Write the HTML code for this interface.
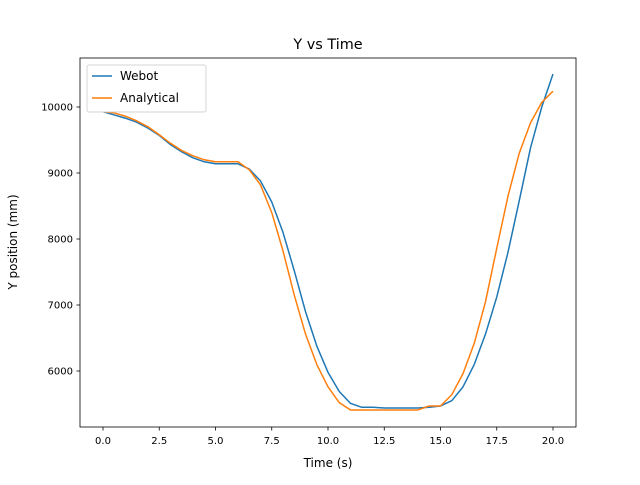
<!DOCTYPE html>
<html><head><meta charset="utf-8"><style>body{margin:0;background:#fff}svg{font-family:"DejaVu Sans","Liberation Sans",sans-serif}</style></head>
<body>
<svg id="c" width="640" height="480">
<rect width="640" height="480" fill="#fff"/>
<text x="328" y="49" font-size="14.4" text-anchor="middle">Y vs Time</text>
<g id="plot"></g>
<rect x="80" y="58" width="496" height="369" fill="none" stroke="#000" stroke-width="0.8"/>
<text x="328" y="467" font-size="12" text-anchor="middle">Time (s)</text>
<text transform="translate(17,242) rotate(-90)" font-size="12" text-anchor="middle">Y position (mm)</text>
<g>
<rect x="87" y="65" width="119" height="47" rx="2" fill="#fff" stroke="#ccc" stroke-opacity="0.8"/>
<line x1="92" y1="76" x2="112" y2="76" stroke="#1f77b4" stroke-width="1.5"/>
<text x="120" y="80" font-size="12">Webot</text>
<line x1="92" y1="98" x2="112" y2="98" stroke="#ff7f0e" stroke-width="1.5"/>
<text x="120" y="102" font-size="12">Analytical</text>
</g>
</svg>
<script>
const times=[];for(let i=0;i<=40;i++)times.push(i*0.5);
const webot=[9930,9880,9830,9770,9680,9570,9430,9320,9230,9170,9140,9140,9140,9060,8880,8560,8100,7520,6900,6380,5980,5690,5510,5450,5450,5440,5440,5440,5440,5450,5470,5550,5760,6100,6560,7120,7800,8580,9380,10000,10500];
const analytical=[9930,9910,9860,9790,9700,9580,9450,9340,9260,9200,9170,9170,9170,9050,8820,8400,7820,7150,6560,6100,5760,5520,5410,5410,5410,5410,5410,5410,5410,5470,5470,5640,5960,6420,7050,7860,8650,9300,9760,10070,10240];
const xTicks=[0,2.5,5,7.5,10,12.5,15,17.5,20];
const xTickLabels=["0.0","2.5","5.0","7.5","10.0","12.5","15.0","17.5","20.0"];
const yTicks=[6000,7000,8000,9000,10000];
const ns="http://www.w3.org/2000/svg";
const X=v=>103+v*22.5, Y=v=>107+(10000-v)*0.066;
const g=document.getElementById('plot');
function mk(t,a){const e=document.createElementNS(ns,t);for(const k in a)e.setAttribute(k,a[k]);g.appendChild(e);return e;}
xTicks.forEach((t,i)=>{
 const l=mk('line',{x1:X(t),x2:X(t),y1:427,y2:430.5,stroke:'#000','stroke-width':0.8});
 
 
 const tx=mk('text',{x:X(t),y:444,'font-size':10,'text-anchor':'middle'});tx.textContent=xTickLabels[i];
 
 
});
yTicks.forEach(t=>{
 const l=mk('line',{x1:76.5,x2:80,y1:Y(t),y2:Y(t),stroke:'#000','stroke-width':0.8});
 
 
 const tx=mk('text',{x:73,y:Y(t)+3.5,'font-size':10,'text-anchor':'end'});tx.textContent=t;
 
 
});
function line(d,c,n){const p=mk('polyline',{points:d.map((v,i)=>X(times[i])+','+Y(v)).join(' '),fill:'none',stroke:c,'stroke-width':1.5,'stroke-linejoin':'round'});
 
 }
line(webot,'#1f77b4','webot-line');
line(analytical,'#ff7f0e','analytical-line');
</script>
</body></html>
